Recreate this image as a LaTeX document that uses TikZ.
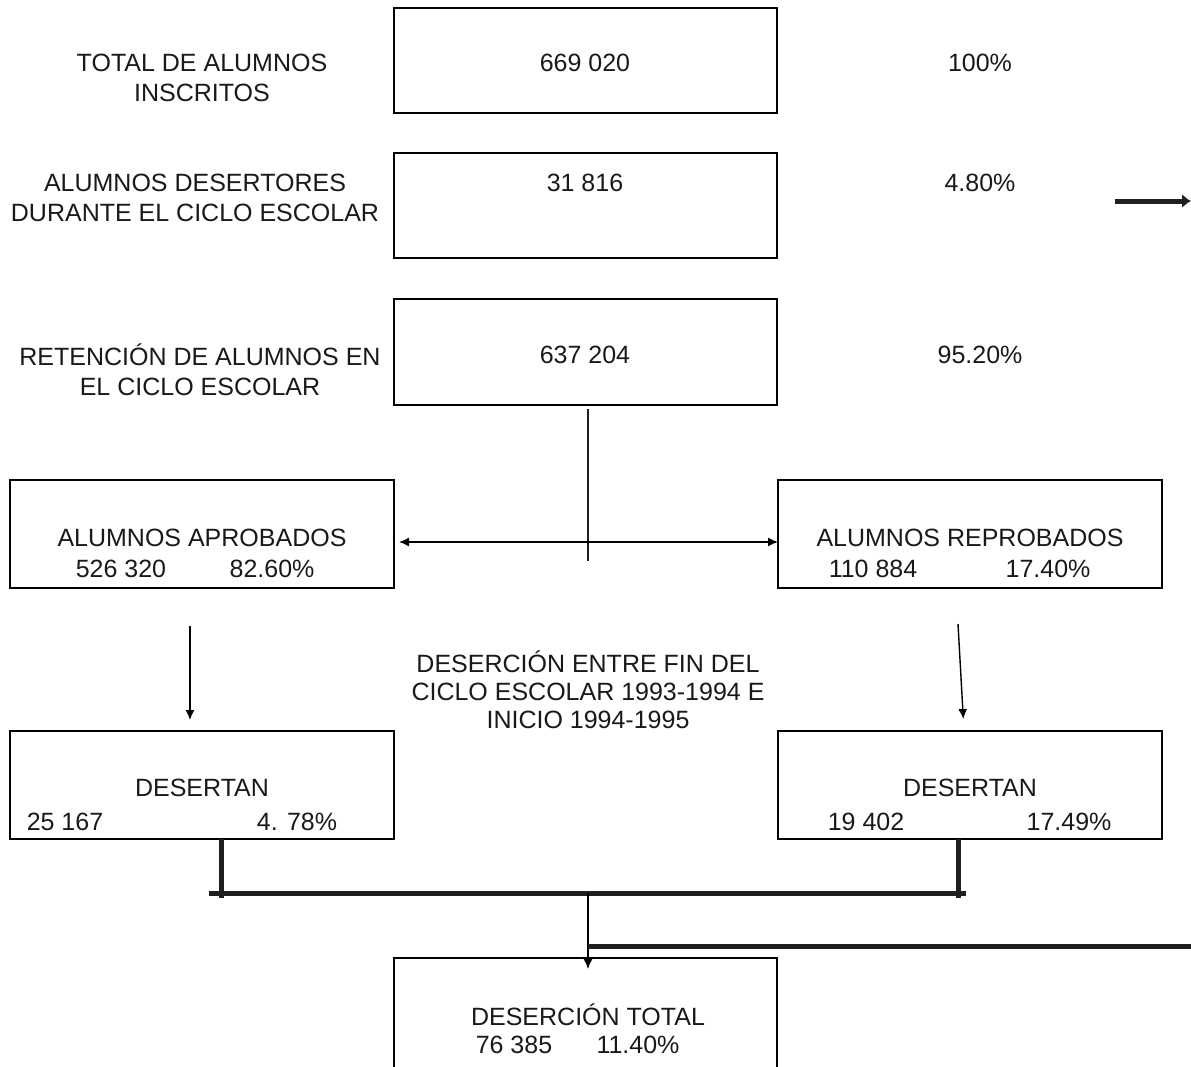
\documentclass[tikz,border=0pt]{standalone}
\usepackage{fontspec}
\setmainfont{Liberation Sans}
\usetikzlibrary{arrows.meta}
\begin{document}
\begin{tikzpicture}[x=1pt,y=-1pt,
  box/.style={draw, line width=1.8pt, inner sep=0pt, outer sep=0pt},
  txt/.style={font=\fontsize{25}{30}\selectfont, inner sep=0pt, align=center, text=black!90},
  conn/.style={line width=1.4pt, -{Latex[length=10pt,width=9pt]}},
  heavy/.style={line width=5pt, draw=black!88},
]
\useasboundingbox (0,0) rectangle (1191,1066);
\clip (0,0) rectangle (1191,1066);

% boxes
\node[box, minimum width=383pt, minimum height=105pt] (b1) at (585.5,60.5) {};
\node[box, minimum width=383pt, minimum height=105pt] (b2) at (585.5,205.5) {};
\node[box, minimum width=383pt, minimum height=106pt] (b3) at (585.5,352) {};
\node[box, minimum width=384pt, minimum height=108pt] (apro) at (202,534) {};
\node[box, minimum width=384pt, minimum height=108pt] (repro) at (970,534) {};
\node[box, minimum width=384pt, minimum height=108pt] (des1) at (202,785) {};
\node[box, minimum width=384pt, minimum height=108pt] (des2) at (970,785) {};
\node[box, minimum width=383pt, minimum height=140pt] (tot) at (585.5,1028) {};

% top rows
\node[txt] (l1) at (202,78) {TOTAL DE ALUMNOS\\INSCRITOS};
\node[txt] (n1) at (585,63) {669 020};
\node[txt] (p1) at (980,63) {100\%};
\node[txt] (l2) at (195,198) {ALUMNOS DESERTORES\\DURANTE EL CICLO ESCOLAR};
\node[txt] (n2) at (585,183) {31 816};
\node[txt] (p2) at (980,183) {4.80\%};
\node[txt] (l3) at (200,370) {RETENCIÓN DE ALUMNOS EN\\EL CICLO ESCOLAR};
\node[txt] (n3) at (585,355) {637 204};
\node[txt] (p3) at (980,355) {95.20\%};

% second level
\node[txt] (at) at (202,538) {ALUMNOS APROBADOS};
\node[txt] (an) at (121,569) {526 320};
\node[txt] (ap) at (272,569) {82.60\%};
\node[txt] (rt) at (970,538) {ALUMNOS REPROBADOS};
\node[txt] (rn) at (873,569) {110 884};
\node[txt] (rp) at (1048,569) {17.40\%};

\node[txt, font=\fontsize{25}{28}\selectfont] (mid) at (588,690)
  {DESERCIÓN ENTRE FIN DEL\\CICLO ESCOLAR 1993-1994 E\\INICIO 1994-1995};

% third level
\node[txt] (d1t) at (202,788) {DESERTAN};
\node[txt] (d1n) at (65,822) {25 167};
\node[txt] (d1p) at (297,822) {4. 78\%};
\node[txt] (d2t) at (970,788) {DESERTAN};
\node[txt] (d2n) at (866,822) {19 402};
\node[txt] (d2p) at (1069,822) {17.49\%};

% bottom
\node[txt] (tt) at (588,1015) {DESERCIÓN TOTAL};
\node[txt] (tn) at (514,1045) {76 385};
\node[txt] (tp) at (638,1045) {11.40\%};

% connectors
\coordinate (split) at (588,561);
\coordinate (cross) at (588,542);
\draw[line width=1.6pt, draw=black!88, shorten <=4pt] (b3.south -| split) -- (split);
\draw[line width=1.4pt, {Latex[length=10pt,width=9pt]}-{Latex[length=10pt,width=9pt]}, shorten <=5pt]
  (apro.east |- cross) -- (repro.west |- cross);

\coordinate (a1s) at (190,626);
\draw[conn, shorten >=11pt] (a1s) -- (des1.north -| a1s);
\coordinate (a2s) at (958,624);
\coordinate (a2e) at (964,731);
\draw[conn, shorten >=12pt] (a2s) -- (a2e);

\coordinate (bl) at (221,893);
\coordinate (br) at (958,893);
\coordinate (hl) at (209,893);
\coordinate (hr) at (966,893);
\coordinate (tj) at (588,893);
\draw[heavy] (des1.south -| bl) -- ++(0,59);
\draw[heavy] (des2.south -| br) -- ++(0,59);
\draw[heavy] (hl) -- (hr);
\draw[conn, shorten >=-11pt] (tj) -- (tot.north -| tj);

\coordinate (side) at (588,946);
\coordinate (sideend) at (1191,946);
\draw[heavy] (side) -- (sideend);

\coordinate (ra) at (1115,201);
\coordinate (rb) at (1191,201);
\draw[line width=5pt, draw=black!88, fill=black!88, -{Latex[length=9pt,width=14pt]}] (ra) -- (rb);
\end{tikzpicture}
\end{document}
